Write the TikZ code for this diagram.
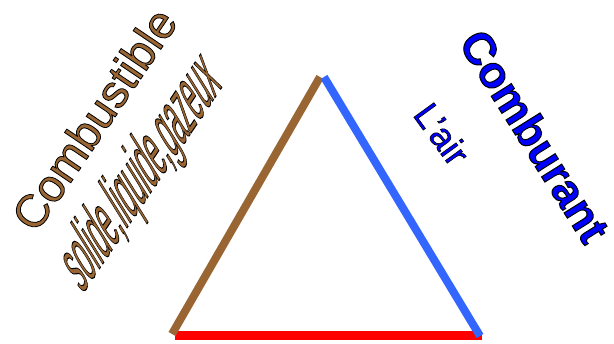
\documentclass[tikz,border=0pt]{standalone}
\usepackage{fontspec}
\setmainfont{Liberation Sans}
\definecolor{brun}{HTML}{996633}
\definecolor{bleuligne}{HTML}{3366FF}
\definecolor{rouge}{HTML}{FF0000}
\definecolor{bleutexte}{HTML}{0000FF}
\newcommand{\contourtxt}[3]{{\color{#1}\special{pdf:literal direct 2 Tr #2 w 0 0 0 RG}#3\special{pdf:literal direct 0 Tr}}}
\tikzset{
  side/.style={line width=8pt, line cap=butt},
  lbl/.style={inner sep=0pt, outer sep=0pt, anchor=center, transform shape},
}
\begin{document}
\begin{tikzpicture}[x=1pt,y=1pt]
\useasboundingbox (0,0) rectangle (614,-344);
\coordinate (bl) at (172,-334);
\coordinate (tl) at (320,-77);
\coordinate (tr) at (324,-77);
\coordinate (br) at (480,-336);
\coordinate (rl) at (175,-336);
\coordinate (rr) at (482,-336);
\draw[side, rouge, line width=9pt] (rl) -- (rr);
\draw[side, brun] (bl) -- (tl);
\draw[side, bleuligne] (tr) -- (br);
\begin{scope}[shift={(94,-119)}, rotate=56]
\node[lbl] (combustible) {\fontsize{46}{46}\selectfont\contourtxt{brun}{0.8}{Combustible}};
\end{scope}
\begin{scope}[shift={(142,-174)}, cm={0.251,0.372,-0.662,1.06,(0,0)}]
\node[lbl] (etats) {\fontsize{60}{60}\selectfont\contourtxt{brun}{0.9}{solide,liquide,gazeux}};
\end{scope}
\begin{scope}[shift={(535,-136)}, rotate=-58]
\node[lbl] (comburant) {\fontsize{45}{45}\selectfont\bfseries\contourtxt{bleutexte}{1}{Comburant}};
\end{scope}
\begin{scope}[shift={(442,-134)}, rotate=-54]
\node[lbl] (air) {\fontsize{36}{36}\selectfont\contourtxt{bleutexte}{0.6}{L'air}};
\end{scope}
\end{tikzpicture}
\end{document}
